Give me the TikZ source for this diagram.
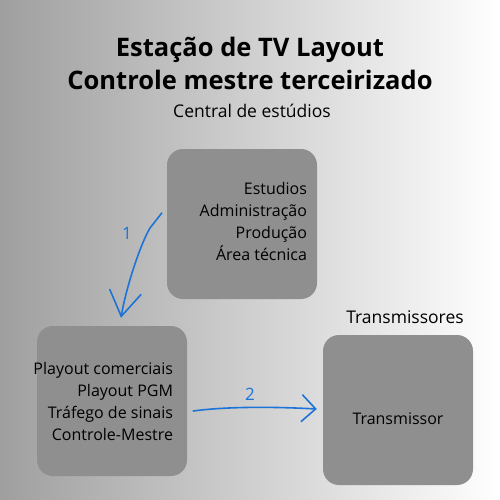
\documentclass[tikz,border=0pt]{standalone}
\usepackage{fontspec}
\setmainfont{Open Sans}
\usepackage{tikz}
\usetikzlibrary{arrows.meta}
\usetikzlibrary{positioning}
\usetikzlibrary{calc}
\definecolor{boxgray}{HTML}{8F8F8F}
\definecolor{pen}{HTML}{1C74D8}
\definecolor{bgleft}{HTML}{9F9F9F}
\tikzset{>=latex}
\tikzset{
  block/.style={fill=boxgray, rounded corners=16pt, minimum width=150pt,
    minimum height=150pt},
  blocktext/.style={align=right, inner sep=0pt, font=\fontsize{16}{22}\selectfont},
  caption/.style={font=\fontsize{17.5}{20}\selectfont},
  pentrace/.style={draw=pen, line width=1.6pt, line cap=round},
  penlabel/.style={text=pen, font=\fontsize{17}{17}\selectfont}
}

\begin{document}
\begin{tikzpicture}[x=1pt, y=-1pt, node distance = 8pt]
      \shade[left color=bgleft, right color=white] (0,0) rectangle (500,500);
      \useasboundingbox (0,0) rectangle (500,500);

      \node[font=\fontsize{25.5}{33}\selectfont\bfseries, align=center] (title) at (250,63)
        {Estação de TV Layout\\Controle mestre terceirizado};
      \node[caption] (central) at (252,111) {Central de estúdios};

      \node[block] (est) at (242,224) {};
      \node[blocktext, left = 10pt of est.east, yshift=3pt] (esttext)
        {Estudios\\Administração\\Produção\\Área técnica};

      \node[block] (pgm) at (112,401) {};
      \node[blocktext, left = 14pt of pgm.east] (pgmtext)
        {Playout comerciais\\Playout PGM\\Tráfego de sinais\\Controle-Mestre};

      \node[block] (tx) at (398,410) {};
      \node[blocktext, yshift=-9pt] (txtext) at (tx.center) {Transmissor};
      \node[above = 8pt of tx, xshift=7pt, caption] (txs) {Transmissores};

      \coordinate (a1) at ($(est.west)+(-5,-11)$);
      \coordinate (b1) at ($(pgm.north)+(9,-8)$);
      \coordinate (a2) at ($(pgm.east)+(6,10)$);
      \coordinate (b2) at ($(tx.west)+(-6,-1)$);

      \draw[pentrace, -{Straight Barb[length=25pt, width=32pt, line width=1.6pt]}]
        (a1) -- (150,228) .. controls (140,245) and (126,288) .. (b1);
      \draw[pentrace, -{Straight Barb[length=14pt, width=27pt, line width=1.6pt]}]
        (a2) .. controls (230,406) and (280,407) .. (b2);

      \node[penlabel] (n1) at (127,233) {1};
      \node[penlabel] (n2) at (250,394) {2};

    \end{tikzpicture}
\end{document}
